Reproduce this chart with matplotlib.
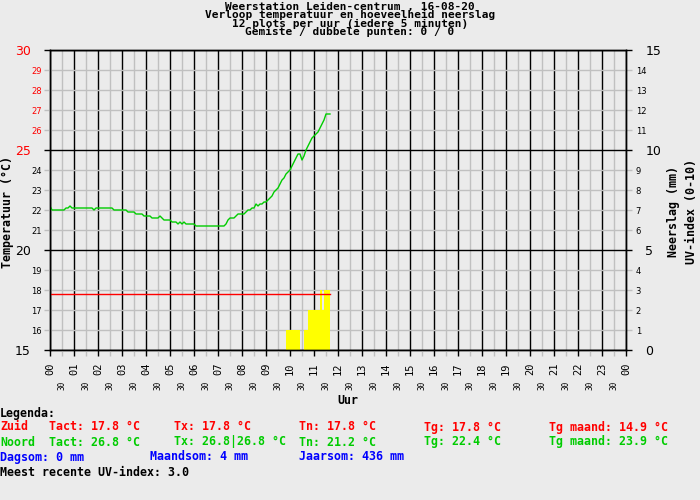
import numpy as np
import matplotlib
matplotlib.use("Agg")
from matplotlib import pyplot as plt
from matplotlib.ticker import MultipleLocator, FixedLocator, FixedFormatter

# titles and labels
title_lines = ["Weerstation Leiden-centrum , 16-08-20",
               "Verloop temperatuur en hoeveelheid neerslag",
               "12 plots per uur (iedere 5 minuten)",
               "Gemiste / dubbele punten: 0 / 0"]
hour_labels = ["%02d" % h for h in range(24)] + ["00"]
half_labels = ["30"] * 24

# temperature north sensor, one value every 5 minutes from 00:00 to 11:40
temp_noord = [
    22.2, 22.0, 22.0, 22.0, 22.0, 22.0, 22.0, 22.0, 22.1, 22.1, 22.2, 22.1,
    22.1, 22.1, 22.1, 22.1, 22.1, 22.1, 22.1, 22.1, 22.1, 22.1, 22.0, 22.1,
    22.1, 22.1, 22.1, 22.1, 22.1, 22.1, 22.1, 22.1, 22.0, 22.0, 22.0, 22.0,
    22.0, 22.0, 22.0, 21.9, 21.9, 21.9, 21.9, 21.8, 21.8, 21.8, 21.8, 21.7,
    21.7, 21.7, 21.7, 21.6, 21.6, 21.6, 21.6, 21.7, 21.6, 21.5, 21.5, 21.5,
    21.5, 21.4, 21.4, 21.4, 21.3, 21.4, 21.3, 21.4, 21.3, 21.3, 21.3, 21.3,
    21.3, 21.2, 21.2, 21.2, 21.2, 21.2, 21.2, 21.2, 21.2, 21.2, 21.2, 21.2,
    21.2, 21.2, 21.2, 21.2, 21.3, 21.5, 21.6, 21.6, 21.6, 21.7, 21.8, 21.8,
    21.8, 21.8, 21.9, 22.0, 22.0, 22.1, 22.1, 22.3, 22.2, 22.3, 22.3, 22.4,
    22.4, 22.5, 22.6, 22.7, 22.9, 23.0, 23.1, 23.3, 23.5, 23.6, 23.8, 23.9,
    24.0, 24.2, 24.4, 24.6, 24.8, 24.8, 24.5, 24.7, 25.0, 25.2, 25.4, 25.6,
    25.7, 25.8, 25.9, 26.1, 26.3, 26.5, 26.8, 26.8, 26.8]
# south sensor is flat all morning
temp_zuid = [17.8] * len(temp_noord)

# uv index per 5 minutes, starting 09:50
uv_start = 9 + 50 / 60
uv_index = [1, 1, 1, 1, 1, 1, 1, 0, 0, 1, 1, 2, 2, 2, 2, 2, 2, 3, 2, 3, 3, 3]

# legend text (colour, x pixel, text) per row
legend_rows = [
    [("black", 0, "Legenda:")],
    [("red", 0, "Zuid"), ("red", 49, "Tact: 17.8 °C"), ("red", 174, "Tx: 17.8 °C"),
     ("red", 299, "Tn: 17.8 °C"), ("red", 424, "Tg: 17.8 °C"), ("red", 549, "Tg maand: 14.9 °C")],
    [("#00cc00", 0, "Noord"), ("#00cc00", 49, "Tact: 26.8 °C"), ("#00cc00", 174, "Tx: 26.8|26.8 °C"),
     ("#00cc00", 299, "Tn: 21.2 °C"), ("#00cc00", 424, "Tg: 22.4 °C"), ("#00cc00", 549, "Tg maand: 23.9 °C")],
    [("blue", 0, "Dagsom: 0 mm"), ("blue", 150, "Maandsom: 4 mm"), ("blue", 299, "Jaarsom: 436 mm")],
    [("black", 0, "Meest recente UV-index: 3.0")],
]
legend_y = [413, 427, 442, 457, 472]

# sample times in hours (12 plots per hour)
t = np.arange(len(temp_noord)) * 5 / 60
uv_t = uv_start + np.arange(len(uv_index)) * 5 / 60

bg = "#ebebeb"
grey = "#c0c0c0"
mono = "DejaVu Sans Mono"
W, H = 700, 500

fig = plt.figure(figsize=(7, 5), dpi=100, facecolor=bg)
ax = fig.add_axes([50 / W, 1 - 350 / H, 576 / W, 300 / H])
ax2 = ax.twinx()

# ax2 lies below: background, grid, uv bars
ax2.set_zorder(1)
ax.set_zorder(2)
ax.patch.set_visible(False)
ax2.patch.set_visible(True)
ax2.patch.set_facecolor(bg)
ax2.xaxis.set_visible(True)
ax2.set_axisbelow(True)

ax.set_xlim(0, 24)
ax.set_ylim(15, 30)
ax2.set_ylim(0, 15)

for a in (ax, ax2):
    a.xaxis.set_major_locator(FixedLocator(np.arange(0, 25, 1)))
    a.xaxis.set_minor_locator(FixedLocator(np.arange(0.5, 24, 1)))
    for s in a.spines.values():
        s.set_color("black")
        s.set_linewidth(1)

ax2.yaxis.set_major_locator(MultipleLocator(5))
ax2.yaxis.set_minor_locator(MultipleLocator(1))
ax2.grid(which="major", color="black", linewidth=1)
ax2.grid(which="minor", color=grey, linewidth=1)
ax2.tick_params(axis="x", which="both", length=0, labelbottom=False)

ax2.bar(uv_t, uv_index, width=5 / 60, align="edge", color="yellow", linewidth=0, zorder=2)

ax.plot(t, temp_zuid, color="red", linewidth=1)
ax.plot(t, temp_noord, color="#00cc00", linewidth=1)

# x ticks
ax.xaxis.set_major_formatter(FixedFormatter(hour_labels))
ax.xaxis.set_minor_formatter(FixedFormatter(half_labels))
ax.tick_params(axis="x", which="major", length=4, color="black", width=1,
               labelsize=7.5, pad=5, labelrotation=90)
ax.tick_params(axis="x", which="minor", length=4, color=grey, width=1,
               labelsize=5.5, pad=18, labelrotation=90)
for lab in ax.get_xticklabels(which="both"):
    lab.set_family(mono)

# left y ticks
ax.yaxis.set_major_locator(MultipleLocator(5))
ax.yaxis.set_minor_locator(MultipleLocator(1))
ax.yaxis.set_minor_formatter("{x:.0f}")
ax.tick_params(axis="y", which="major", length=4, color="black", width=1, labelsize=9, pad=10)
ax.tick_params(axis="y", which="minor", length=4, color=grey, width=1, labelsize=6, pad=2)
for lab, v in zip(ax.get_yticklabels(), ax.get_yticks()):
    lab.set_color("red" if v >= 25 else "black")
for lab, v in zip(ax.get_yticklabels(minor=True), ax.get_yticks(minor=True)):
    lab.set_color("red" if v >= 25 else "black")

# right y ticks
ax2.yaxis.set_minor_formatter("{x:.0f}")
ax2.tick_params(axis="y", which="major", length=4, color="black", width=1, labelsize=9, pad=10)
ax2.tick_params(axis="y", which="minor", length=4, color=grey, width=1, labelsize=6, pad=3)

# titles and axis labels
fig.text(350 / W, 1 - 2 / H, "\n".join(title_lines), ha="center", va="top",
         family=mono, weight="bold", fontsize=8, linespacing=0.78)
fig.text(348 / W, 1 - 400 / H, "Uur", ha="center", va="center",
         family=mono, weight="bold", fontsize=8.4)
fig.text(8 / W, 1 - 212 / H, "Temperatuur (°C)", ha="center", va="center",
         rotation=90, family=mono, weight="bold", fontsize=8.4)
fig.text(673 / W, 1 - 212 / H, "Neerslag (mm)", ha="center", va="center",
         rotation=90, family=mono, weight="bold", fontsize=8.4)
fig.text(692 / W, 1 - 212 / H, "UV-index (0-10)", ha="center", va="center",
         rotation=90, family=mono, weight="bold", fontsize=8.4)

# legend block
for row, y in zip(legend_rows, legend_y):
    for color, x, txt in row:
        fig.text(x / W, 1 - y / H, txt, ha="left", va="center", color=color,
                 family=mono, weight="bold", fontsize=8.4)

fig.savefig("out.png", dpi=100, facecolor=bg)
